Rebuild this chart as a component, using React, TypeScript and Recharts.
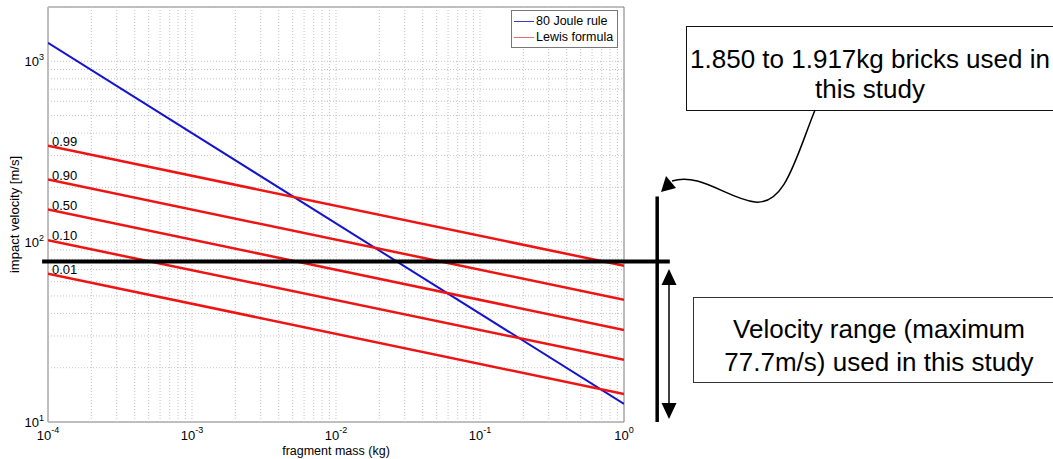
import { LineChart, Line, XAxis, YAxis, ReferenceLine, ReferenceArea, Legend } from 'recharts';

const FONT = '"Liberation Sans", Arial, sans-serif';

// fragment mass (kg) at the two ends of every line
const masses = [1e-4, 1];
// impact velocity (m/s), read at both ends
const jouleRule = [1265, 12.6];
const lewis99 = [340, 73.5];
const lewis90 = [221, 47.6];
const lewis50 = [150.6, 32.4];
const lewis10 = [101.7, 22.1];
const lewis01 = [66.4, 14.3];

const xTicks = [1e-4, 1e-3, 1e-2, 1e-1, 1];
const yTicks = [10, 100, 1000];
const xDecades = [1e-4, 1e-3, 1e-2, 1e-1];
const yDecades = [10, 100, 1000];
const maxVelocity = 77.7;

const xGrid: number[] = [];
xDecades.forEach(d => { for (let k = 1; k <= 9; k++) xGrid.push(d * k); });
const yGrid: number[] = [];
yDecades.forEach(d => { for (let k = 1; k <= 9; k++) yGrid.push(d * k); });
yGrid.push(1000 * 2);

const data = masses.map((m, i) => ({
  mass: m,
  joule: jouleRule[i],
  p99: lewis99[i],
  p90: lewis90[i],
  p50: lewis50[i],
  p10: lewis10[i],
  p01: lewis01[i],
}));

const RED = '#ee1414';
const BLUE = '#1414cc';
const legendColors: Record<string, string> = { '80 Joule rule': '#3a3acc', 'Lewis formula': '#e86a6a' };

const XTick = ({ x, y, payload }: any) => {
  const exp = Math.round(Math.log10(payload.value));
  return (
    <text x={x} y={y + 18} textAnchor="middle" fontSize={13} fontFamily={FONT} fill="#000">
      <tspan>10</tspan>
      <tspan dy={-7} fontSize={9}>{exp}</tspan>
    </text>
  );
};

const YTick = ({ x, y, payload }: any) => {
  const exp = Math.round(Math.log10(payload.value));
  return (
    <text x={x} y={y + 5} textAnchor="end" fontSize={13} fontFamily={FONT} fill="#000">
      <tspan>10</tspan>
      <tspan dy={-6} fontSize={9}>{exp}</tspan>
    </text>
  );
};

const probLabel = (txt: string) => (p: any) =>
  p.index === 0 ? (
    <text x={p.x + 4} y={p.y} fontSize={13} fontFamily={FONT} fill="#000">{txt}</text>
  ) : <g />;

const MatlabLegend = ({ payload }: any) => (
  <div style={{ border: '1px solid #777', background: '#fff', padding: '2px 4px 2px 2px', fontFamily: FONT, fontSize: 12.5, lineHeight: '16px' }}>
    {(payload || []).filter((p: any) => p.type !== 'none').map((p: any) => (
      <div key={p.value} style={{ display: 'flex', alignItems: 'center', whiteSpace: 'nowrap' }}>
        <span style={{ display: 'inline-block', width: 20, height: 1, background: legendColors[p.value] || p.color, marginRight: 2 }} />
        <span>{p.value}</span>
      </div>
    ))}
  </div>
);

export default function App() {
  return (
    <div style={{ position: 'absolute', left: 0, top: 0, width: 1053, height: 459, background: '#fff' }}>
      <LineChart width={1053} height={459} data={data} margin={{ top: 7, right: 429, bottom: 0, left: 8 }}>
        {xGrid.map(v => (
          <ReferenceLine key={'x' + v} x={v} stroke="#c4c4c4" strokeDasharray="1 2" />
        ))}
        {yGrid.map(v => (
          <ReferenceLine key={'y' + v} y={v} stroke="#c4c4c4" strokeDasharray="1 2" />
        ))}
        <XAxis
          dataKey="mass"
          type="number"
          scale="log"
          domain={[1e-4, 1]}
          allowDataOverflow
          ticks={xTicks}
          tick={<XTick />}
          tickSize={0}
          tickMargin={0}
          axisLine={false}
          height={37}
          label={{
            content: (p: any) => (
              <text x={p.viewBox.x + p.viewBox.width / 2} y={455} textAnchor="middle" fontSize={12.5} fontFamily={FONT} fill="#000">
                fragment mass (kg)
              </text>
            ),
          }}
        />
        <YAxis
          type="number"
          scale="log"
          domain={[10, 2000]}
          allowDataOverflow
          ticks={yTicks}
          tick={<YTick />}
          tickSize={0}
          tickMargin={4}
          axisLine={false}
          width={40}
          label={{
            content: (p: any) => (
              <text
                transform={`translate(${p.viewBox.x + 11},${p.viewBox.y + p.viewBox.height / 2}) rotate(-90)`}
                textAnchor="middle"
                fontSize={13}
                fontFamily={FONT}
                fill="#000"
              >
                impact velocity [m/s]
              </text>
            ),
          }}
        />
        <ReferenceArea x1={1e-4} x2={1} y1={10} y2={2000} fill="none" fillOpacity={0} stroke="#7a7a7a" strokeWidth={1} />
        <Line dataKey="joule" name="80 Joule rule" stroke={BLUE} strokeWidth={2} dot={false} isAnimationActive={false} />
        <Line dataKey="p99" name="Lewis formula" stroke={RED} strokeWidth={2.5} dot={false} isAnimationActive={false} label={probLabel('0.99')} />
        <Line dataKey="p90" legendType="none" stroke={RED} strokeWidth={2.5} dot={false} isAnimationActive={false} label={probLabel('0.90')} />
        <Line dataKey="p50" legendType="none" stroke={RED} strokeWidth={2.5} dot={false} isAnimationActive={false} label={probLabel('0.50')} />
        <Line dataKey="p10" legendType="none" stroke={RED} strokeWidth={2.5} dot={false} isAnimationActive={false} label={probLabel('0.10')} />
        <Line dataKey="p01" legendType="none" stroke={RED} strokeWidth={2.5} dot={false} isAnimationActive={false} label={probLabel('0.01')} />
        <ReferenceLine
          segment={[{ x: 9.1e-5, y: maxVelocity }, { x: 2.08, y: maxVelocity }]}
          stroke="#000"
          strokeWidth={4}
          ifOverflow="visible"
        />
        <ReferenceLine
          segment={[{ x: 1.7, y: 10 }, { x: 1.7, y: 178 }]}
          stroke="#000"
          strokeWidth={3.5}
          ifOverflow="visible"
        />
        <Legend
          layout="vertical"
          align="center"
          verticalAlign="middle"
          content={<MatlabLegend />}
          wrapperStyle={{ left: 511, top: 10, width: 'auto' }}
        />
      </LineChart>
      <svg width={1053} height={459} style={{ position: 'absolute', left: 0, top: 0, pointerEvents: 'none' }}>
        {/* double arrow for the velocity range */}
        <line x1={669} y1={283} x2={669} y2={405} stroke="#000" strokeWidth={1.5} />
        <polygon points="669,269 661.5,285 676.5,285" fill="#000" />
        <polygon points="669,419 661.5,403 676.5,403" fill="#000" />
        {/* brick mass call-out */}
        <rect x={686.5} y={26.5} width={380} height={84} fill="#fff" stroke="#111" strokeWidth={1} />
        <text x={870} y={68} textAnchor="middle" fontSize={26} fontFamily={FONT} fill="#000">1.850 to 1.917kg bricks used in</text>
        <text x={870} y={98} textAnchor="middle" fontSize={26} fontFamily={FONT} fill="#000">this study</text>
        <path d="M815,110 C795,160 785,205 755,202 C728,199 700,172 672,181" fill="none" stroke="#000" strokeWidth={1.5} />
        <polygon points="661,192 666,176 676,188" fill="#000" />
        {/* velocity call-out */}
        <rect x={693.5} y={297.5} width={380} height={85} fill="#fff" stroke="#333" strokeWidth={1} />
        <text x={879} y={338} textAnchor="middle" fontSize={26} fontFamily={FONT} fill="#000">Velocity range (maximum</text>
        <text x={879} y={371} textAnchor="middle" fontSize={26} fontFamily={FONT} fill="#000">77.7m/s) used in this study</text>
      </svg>
    </div>
  );
}
